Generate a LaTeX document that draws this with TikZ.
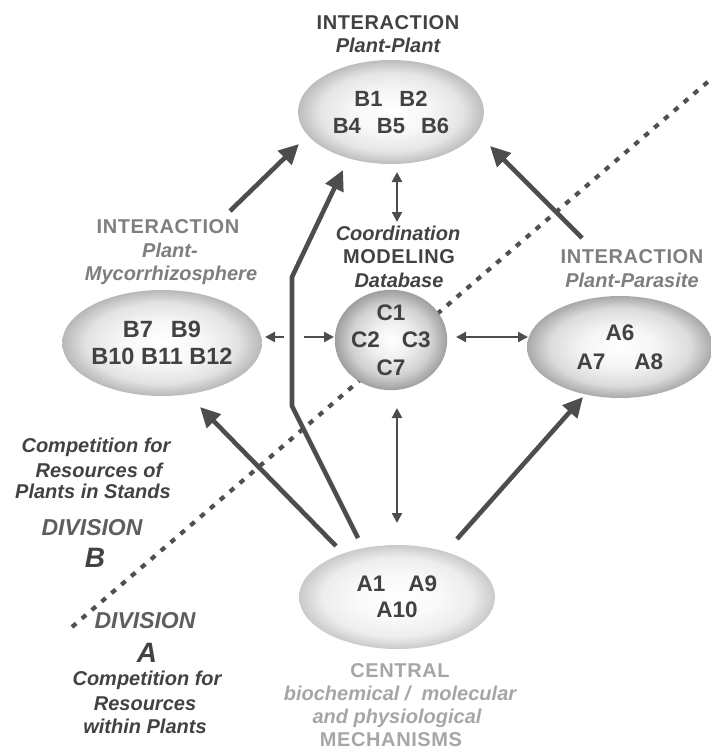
\documentclass[tikz,border=0pt]{standalone}
\usepackage{fontspec}
\setmainfont{Liberation Sans}
\usetikzlibrary{arrows.meta,shapes.geometric}
\definecolor{txtdark}{HTML}{424242}
\definecolor{txtmid}{HTML}{7E7E7E}
\definecolor{txtlight}{HTML}{A6A6A6}
\definecolor{linecol}{HTML}{4D4D4D}
\definecolor{dotcol}{HTML}{505050}
\pgfdeclareradialshading{shTop}{\pgfpoint{0bp}{0bp}}{color(0bp)=(white); color(10bp)=(white!97!black); color(19bp)=(white!90!black); color(25bp)=(white!74!black); color(50bp)=(white!74!black)}
\pgfdeclareradialshading{shLeft}{\pgfpoint{0bp}{0bp}}{color(0bp)=(white); color(10bp)=(white!97!black); color(19bp)=(white!89!black); color(25bp)=(white!72!black); color(50bp)=(white!72!black)}
\pgfdeclareradialshading{shMid}{\pgfpoint{0bp}{0bp}}{color(0bp)=(white); color(9bp)=(white!94!black); color(18bp)=(white!82!black); color(25bp)=(white!62!black); color(50bp)=(white!62!black)}
\pgfdeclareradialshading{shRight}{\pgfpoint{0bp}{0bp}}{color(0bp)=(white); color(10bp)=(white!96!black); color(19bp)=(white!86!black); color(25bp)=(white!66!black); color(50bp)=(white!66!black)}
\pgfdeclareradialshading{shBot}{\pgfpoint{0bp}{0bp}}{color(0bp)=(white); color(10bp)=(white!98!black); color(19bp)=(white!93!black); color(25bp)=(white!79!black); color(50bp)=(white!79!black)}
\begin{document}
\begin{tikzpicture}[x=1pt,y=-1pt,
  blob/.style={ellipse, inner sep=0pt, align=center, text=txtdark,
    font=\bfseries\fontsize{22}{27}\selectfont},
  big/.style={line width=4.6pt, draw=linecol, line join=miter,
    -{Triangle[length=20pt,width=19pt]}},
  twoway/.style={line width=2.2pt, draw=linecol,
    {Triangle[length=10pt,width=10pt]}-{Triangle[length=10pt,width=10pt]}},
  oneway/.style={line width=2.2pt, draw=linecol,
    -{Triangle[length=10pt,width=10pt]}},
  lbl/.style={anchor=base, inner sep=0pt},
  tbold/.style={lbl, font=\bfseries\fontsize{20}{24}\selectfont\addfontfeatures{LetterSpace=3}},
  tital/.style={lbl, font=\bfseries\itshape\fontsize{20}{24}\selectfont},
  tdiv/.style={lbl, font=\bfseries\itshape\fontsize{23}{27}\selectfont, text=txtdark!85!white},
  tletter/.style={lbl, font=\bfseries\itshape\fontsize{28}{30}\selectfont, text=txtdark},
]
\useasboundingbox (0,0) rectangle (711,749);

% dotted division line
\coordinate (dl1) at (72,627);
\coordinate (dl2) at (710,80);
\draw[dotcol, line width=4.2pt, dash pattern=on 5.5pt off 7.5pt] (dl1) -- (dl2);

% ellipses
\node[blob, minimum width=186pt, minimum height=104pt, shading=shTop, shade] (pp) at (391,112)
  {B1\hspace{17pt}B2\\B4\hspace{16pt}B5\hspace{16pt}B6};
\node[blob, minimum width=196pt, minimum height=106pt, shading=shLeft, shade,
  font=\bfseries\fontsize{23.5}{27}\selectfont] (pm) at (162,343)
  {B7\hspace{18pt}B9\\B10 B11 B12};
\node[blob, minimum width=96pt, minimum height=96pt, shading=shMid, shade,
  font=\bfseries\fontsize{22.5}{27.5}\selectfont] (cm) at (391,340)
  {C1\\C2\hspace{22pt}C3\\C7};
\node[blob, minimum width=186pt, minimum height=102pt, shading=shRight, shade,
  font=\bfseries\fontsize{22.5}{29}\selectfont] (ppa) at (620,347)
  {A6\\A7\hspace{29pt}A8};
\node[blob, minimum width=196pt, minimum height=104pt, shading=shBot, shade,
  font=\bfseries\fontsize{22.5}{26}\selectfont] (cen) at (397,597)
  {A1\hspace{23pt}A9\\A10};

% titles
\node[tbold, text=txtdark] (t1a) at (388,30) {INTERACTION};
\node[tital, text=txtdark] (t1b) at (388,53) {Plant-Plant};

\node[tbold, text=txtmid] (t2a) at (168,233) {INTERACTION};
\node[tital, text=txtmid] (t2b) at (170,257) {Plant-};
\node[tital, text=txtmid] (t2c) at (171,280) {Mycorrhizosphere};

\node[tital, text=txtdark] (t3a) at (398,240) {Coordination};
\node[tbold, text=txtdark] (t3b) at (399,263) {MODELING};
\node[tital, text=txtdark] (t3c) at (399,287) {Database};

\node[tbold, text=txtmid] (t4a) at (632,263) {INTERACTION};
\node[tital, text=txtmid] (t4b) at (632,287) {Plant-Parasite};

\node[tbold, text=txtlight] (t5a) at (400,677) {CENTRAL};
\node[tital, text=txtlight] (t5b) at (400,700) {biochemical /\ \ molecular};
\node[tital, text=txtlight] (t5c) at (397,723) {and physiological};
\node[tbold, text=txtlight] (t5d) at (391,746) {MECHANISMS};

% division texts
\node[tital, text=txtdark] (dB1) at (96,452) {Competition for};
\node[tital, text=txtdark] (dB2) at (99,477) {Resources of};
\node[tital, text=txtdark] (dB3) at (93,498) {Plants in Stands};
\node[tdiv] (dB4) at (92,535) {DIVISION};
\node[tletter] (dB5) at (95,567) {B};

\node[tdiv] (dA1) at (145,628) {DIVISION};
\node[tletter] (dA2) at (147,662) {A};
\node[tital, text=txtdark] (dA3) at (147,685) {Competition for};
\node[tital, text=txtdark] (dA4) at (145,710) {Resources};
\node[tital, text=txtdark] (dA5) at (145,733) {within Plants};

% big arrows
\coordinate (s1) at (230,211);
\coordinate (e1) at (299,144);
\draw[big] (s1) -- (e1);

\coordinate (s2) at (358,538);
\coordinate (b2a) at (292,406);
\coordinate (b2b) at (292,277);
\coordinate (e2) at (343,170);
\draw[big] (s2) -- (b2a) -- (b2b) -- (e2);

\coordinate (s3) at (582,238);
\coordinate (e3) at (490,146);
\draw[big] (s3) -- (e3);

\coordinate (s4) at (336,546);
\coordinate (e4) at (200,407);
\draw[big] (s4) -- (e4);

\coordinate (s5) at (457,539);
\coordinate (e5) at (583,397);
\draw[big] (s5) -- (e5);

% thin arrows
\coordinate (v1a) at (397,172);
\coordinate (v1b) at (397,222);
\draw[twoway] (v1a) -- (v1b);

\coordinate (v2a) at (397,408);
\coordinate (v2b) at (397,523);
\draw[twoway] (v2a) -- (v2b);

\coordinate (h1a) at (456,337);
\coordinate (h1b) at (528,337);
\draw[twoway] (h1a) -- (h1b);

\coordinate (h2a) at (284,337);
\coordinate (h2b) at (265,337);
\draw[oneway] (h2a) -- (h2b);

\coordinate (h3a) at (304,337);
\coordinate (h3b) at (334,337);
\draw[oneway] (h3a) -- (h3b);
\end{tikzpicture}
\end{document}
